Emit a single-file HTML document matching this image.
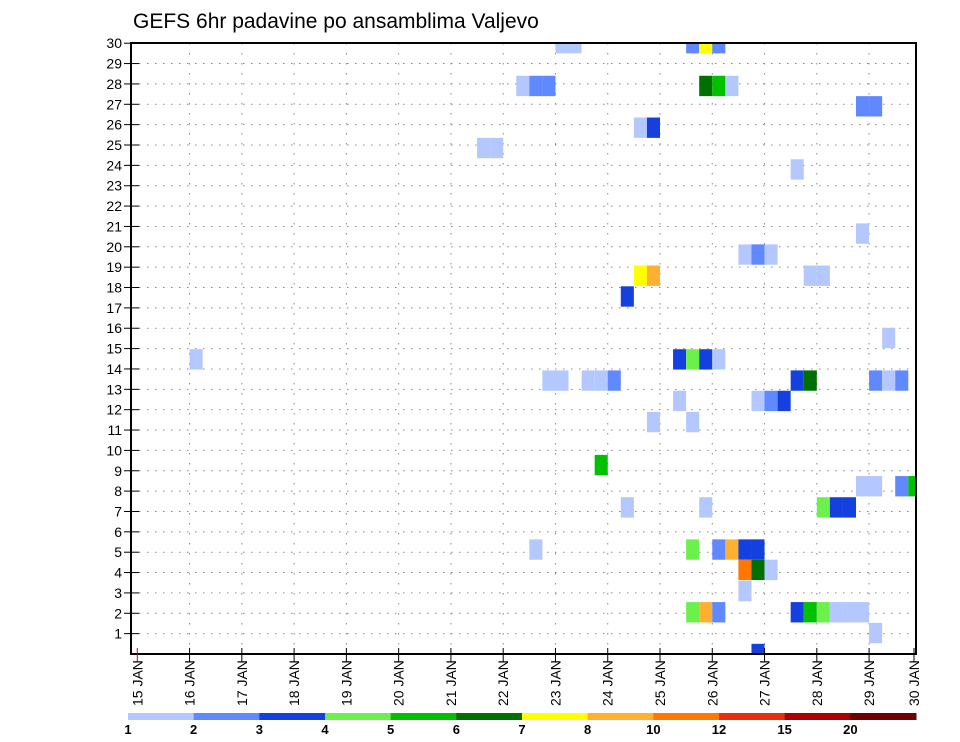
<!DOCTYPE html>
<html><head><meta charset="utf-8"><style>
html,body{margin:0;padding:0;background:#fff;}
svg{display:block;font-family:"Liberation Sans","DejaVu Sans",sans-serif;}
</style></head><body>
<svg id="chart" width="960" height="742" viewBox="0 0 960 742" xmlns="http://www.w3.org/2000/svg">
<rect x="0" y="0" width="960" height="742" fill="#fff"/>
<text x="133" y="28" font-size="21" fill="#000">GEFS 6hr padavine po ansamblima Valjevo</text>
<defs><clipPath id="plotclip"><rect x="131" y="43" width="785" height="611"/></clipPath></defs>
<g id="grid"></g>
<g id="cells" clip-path="url(#plotclip)"></g>
<rect x="131" y="43" width="785" height="611" fill="none" stroke="#000" stroke-width="2"/>
<g id="yaxis"></g>
<g id="xaxis"></g>
<g id="colorbar"></g>
</svg>
<script>
const dayLabels = ["15","16","17","18","19","20","21","22","23","24","25","26","27","28","29","30"];
const memberLabels = [1,2,3,4,5,6,7,8,9,10,11,12,13,14,15,16,17,18,19,20,21,22,23,24,25,26,27,28,29,30];
const levelColors = ["#b4c8ff","#6088ff","#1440e0","#6cf04c","#00c000","#007000","#ffff00","#ffb030","#ff7800","#e83010","#a80000","#6e0000"];
const levelLabels = ["1","2","3","4","5","6","7","8","10","12","15","20"];
// cells: 6-hour step index from 15 JAN 00Z, member row, colour level
const cellT =     [32,33,42,43,44,29,30,31,43,44,45,55,56,38,39,26,27,50,55,46,47,48,38,39,51,52,37,57,4,41,42,43,44,31,32,34,35,36,50,51,56,57,58,41,47,48,49,39,42,35,55,56,58,59,37,43,52,53,54,30,42,44,45,46,47,46,47,48,46,42,43,44,50,51,52,53,54,55,56,47];
const cellRow =   [30,30,30,30,30,27.9,27.9,27.9,27.9,27.9,27.9,26.9,26.9,25.85,25.85,24.85,24.85,23.8,20.65,19.62,19.62,19.62,18.58,18.58,18.58,18.58,17.56,15.52,14.47,14.47,14.47,14.47,14.47,13.43,13.43,13.43,13.43,13.43,13.43,13.43,13.43,13.43,13.43,12.43,12.43,12.43,12.43,11.39,11.39,9.28,8.24,8.24,8.24,8.24,7.2,7.2,7.2,7.2,7.2,5.13,5.13,5.13,5.13,5.13,5.13,4.13,4.13,4.13,3.09,2.05,2.05,2.05,2.05,2.05,2.05,2.05,2.05,2.05,1.03,0];
const cellLevel = [0,0,1,6,1,0,1,1,5,4,0,1,1,0,2,0,0,0,0,0,1,0,6,7,0,0,2,0,0,2,3,2,0,0,0,0,0,1,2,5,1,0,1,0,0,1,2,0,0,4,0,0,1,4,0,0,3,2,2,0,3,1,7,2,2,8,5,0,0,3,7,1,2,4,3,0,0,0,0,2];

const NS="http://www.w3.org/2000/svg";
const X0=131, X1=916, Y0=43, Y1=654;
const day0X=137.3, dayW=52.27, rowH=20.36;
function xDay(d){return day0X+d*dayW;}
function xStep(t){return day0X+t*dayW/4;}
function yRow(v){return Y1-v*rowH;}
function mk(tag,attrs,parent){const e=document.createElementNS(NS,tag);for(const k in attrs)e.setAttribute(k,attrs[k]);parent.appendChild(e);return e;}

const grid=document.getElementById('grid');
memberLabels.forEach(v=>{
  const l=mk('line',{x1:X0,x2:X1,y1:yRow(v),y2:yRow(v),stroke:'#888','stroke-width':1,'stroke-dasharray':'1.5 6.5'},grid);
  
  
});
dayLabels.forEach((d,i)=>{
  if(i===0)return;
  const x=xDay(i); if(x>X1)return;
  const l=mk('line',{x1:x,x2:x,y1:Y0,y2:Y1,stroke:'#888','stroke-width':1,'stroke-dasharray':'1.5 8.5'},grid);
  
  
});

const cells=document.getElementById('cells');
cellT.forEach((t,i)=>{
  const r=mk('rect',{x:xStep(t),y:yRow(cellRow[i]+0.5),width:dayW/4,height:rowH,fill:levelColors[cellLevel[i]]},cells);
  
  
});

const ya=document.getElementById('yaxis');
memberLabels.forEach(v=>{
  const y=yRow(v);
  mk('line',{x1:124,x2:139,y1:y,y2:y,stroke:'#000','stroke-width':1},ya);
  const t=mk('text',{x:122,y:y+5,'text-anchor':'end','font-size':14,fill:'#000'},ya);
  t.textContent=v;
  
  
});

const xa=document.getElementById('xaxis');
dayLabels.forEach((d,i)=>{
  const x=Math.min(xDay(i),X1-2);
  mk('line',{x1:x,x2:x,y1:Y1-6,y2:Y1+8,stroke:i===0?'#d00':'#000','stroke-width':1},xa);
  const t=mk('text',{x:0,y:0,'font-size':14,fill:'#000',transform:'translate('+(x+5)+',706) rotate(-90)'},xa);
  t.textContent=d+' JAN';
  
  
});

const cb=document.getElementById('colorbar');
const cbX0=128, cbX1=916, segW=(cbX1-cbX0)/levelColors.length;
levelColors.forEach((c,i)=>{
  const r=mk('rect',{x:cbX0+i*segW,y:713,width:segW+0.5,height:7,fill:c},cb);
  
  
});
levelLabels.forEach((s,i)=>{
  const t=mk('text',{x:cbX0+i*segW,y:734,'text-anchor':'middle','font-size':13,'font-weight':'bold',fill:'#000'},cb);
  t.textContent=s;
  
  
});
</script>
</body></html>
